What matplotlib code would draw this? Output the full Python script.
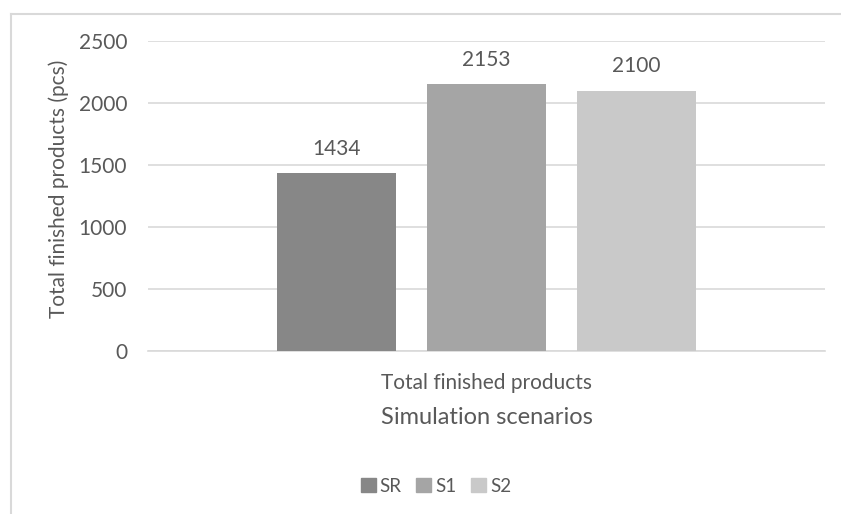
import matplotlib
matplotlib.use("Agg")
import matplotlib.pyplot as plt
from matplotlib.patches import Rectangle
from matplotlib.lines import Line2D

category = ["Total finished products"]
series = ["SR", "S1", "S2"]
values = [1434, 2153, 2100]
colors = ["#878787", "#a5a5a5", "#c9c9c9"]
yticks = [0, 500, 1000, 1500, 2000, 2500]

plt.rcParams['font.family'] = ['Lato', 'DejaVu Sans']
txt = "#595959"

W, H = 841, 514
fig = plt.figure(figsize=(W/100, H/100), dpi=100)
ax = fig.add_axes([148/W, 1-351/H, (825-148)/W, (351-41)/H])

bw = 119/677
step = 150/677
for i, (s, v, c) in enumerate(zip(series, values, colors)):
    x = (i - 1) * step
    ax.bar(x, v, width=bw, color=c, label=s, zorder=3)
    ax.text(x, v + 115, f"{v}", ha="center", va="bottom", fontsize=15, color=txt)

ax.set_xlim(-0.5, 0.5)
ax.set_ylim(0, 2500)
ax.set_yticks(yticks)
ax.set_yticklabels([str(t) for t in yticks], fontsize=15, color=txt)
ax.set_xticks([0])
ax.set_xticklabels(category, fontsize=15, color=txt)
ax.tick_params(axis="x", length=0, pad=16)
ax.tick_params(axis="y", length=0, pad=15)
ax.grid(axis="y", color="#d9d9d9", linewidth=1.2, zorder=0)
for sp in ["top", "right", "left"]:
    ax.spines[sp].set_visible(False)
ax.spines["bottom"].set_color("#d9d9d9")
ax.spines["bottom"].set_linewidth(1.2)

ax.set_ylabel("Total finished products (pcs)", fontsize=15, color=txt, va="center")
ax.yaxis.set_label_coords((59-148)/677, (351-189)/310)
ax.set_xlabel("Simulation scenarios", fontsize=17, color=txt, va="center")
ax.xaxis.set_label_coords(0.5, (351-417)/310)

handles = [Rectangle((0, 0), 1, 1, color=c) for c in colors]
fig.legend(handles, series, loc="center", bbox_to_anchor=(436/W, 1-486/H), ncol=3,
           frameon=False, fontsize=13.5, labelcolor=txt, handlelength=0.8, handleheight=0.8,
           handletextpad=0.2, columnspacing=0.8)

fig.add_artist(Line2D([11/W, 11/W], [0, 1-14/H], color="#d9d9d9", lw=1.5, transform=fig.transFigure))
fig.add_artist(Line2D([11/W, 1], [1-14/H, 1-14/H], color="#d9d9d9", lw=1.5, transform=fig.transFigure))

fig.savefig("out.png", dpi=100, facecolor="white")
